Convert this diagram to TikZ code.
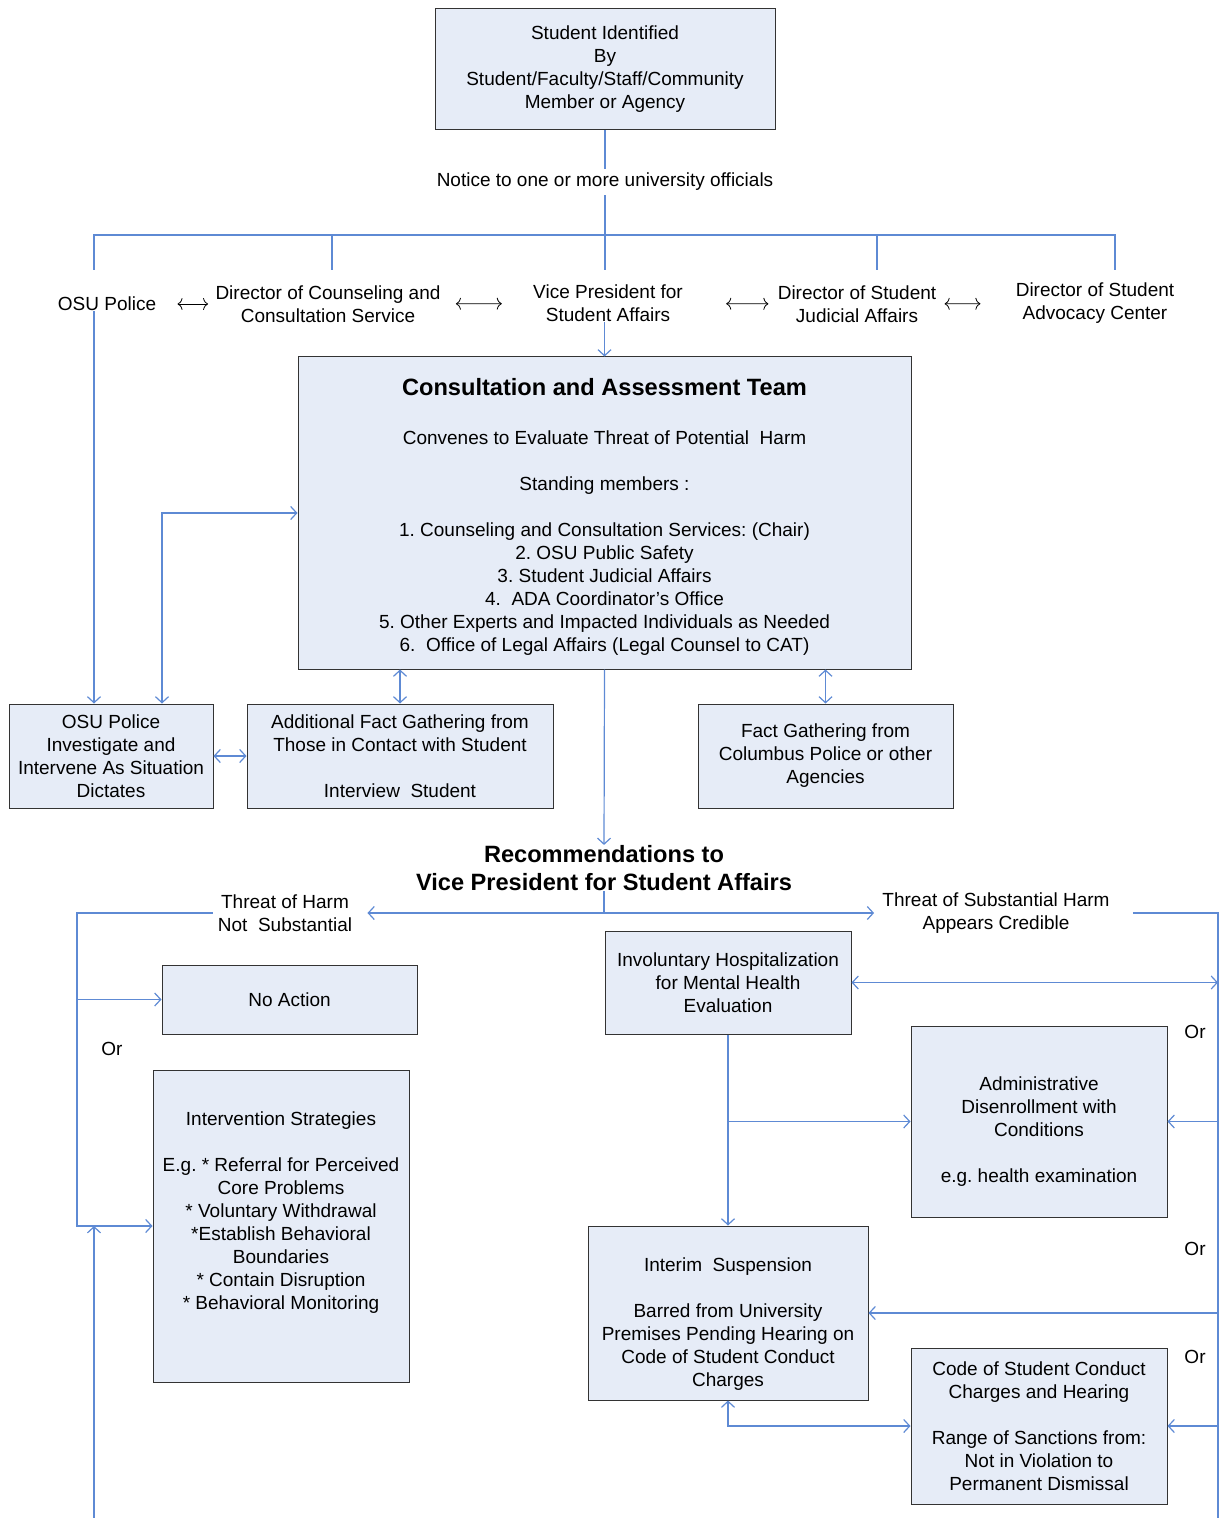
\documentclass[tikz,border=0pt]{standalone}
\usepackage{fontspec}
\setmainfont{Liberation Sans}
\usetikzlibrary{arrows.meta}

\definecolor{boxfill}{RGB}{230,236,247}
\definecolor{linkblue}{RGB}{94,138,212}
\frenchspacing

\begin{document}
\begin{tikzpicture}[x=0.5pt,y=-0.5pt,font=\fontsize{9.5}{11.5}\selectfont]

\tikzset{box/.style = {draw=black!80,fill=boxfill,line width=0.5pt,align=center,inner sep=0pt}}
\tikzset{lbl/.style = {align=center,inner sep=0pt}}
\tikzset{link/.style = {draw=linkblue,line width=0.6pt}}
\tikzset{tip/.style = {link,-{Straight Barb[length=3pt,width=6.5pt]}}}
\tikzset{both/.style = {link,{Straight Barb[length=3pt,width=6.5pt]}-{Straight Barb[length=3pt,width=6.5pt]}}}
\tikzset{peer/.style = {black,line width=0.4pt,{Computer Modern Rightarrow[length=2.5pt,width=6pt]}-{Computer Modern Rightarrow[length=2.5pt,width=6pt]}}}

\useasboundingbox (0,0) rectangle (1220,1518);

% who reports
\node[box,minimum width=170pt,minimum height=60.5pt] (idf) at (605,69.5)
  {Student Identified\\By\\Student/Faculty/Staff/Community\\Member or Agency};
\node[lbl,inner sep=2pt] (notice) at (605,182) {Notice to one or more university officials};

% officials
\node[lbl] (osu) at (107,304) {OSU Police};
\node[lbl] (dcc) at (328,304) {Director of Counseling and\\Consultation Service};
\node[lbl] (vpsa) at (608,303.5) {Vice President for\\Student Affairs};
\node[lbl] (dsja) at (857,304) {Director of Student\\Judicial Affairs};
\node[lbl] (dsac) at (1095,303.5) {Director of Student\\Advocacy Center};

\coordinate (b1) at (94,270);
\coordinate (b2) at (332,270);
\coordinate (b3) at (605,270);
\coordinate (b4) at (877,270);
\coordinate (b5) at (1115,270);

% team
\node[box,minimum width=306.5pt,minimum height=156pt] (cat) at (604.5,513)
  {\mbox{}\\[0.6pt]
   {\bfseries\fontsize{11.8}{14}\selectfont Consultation and Assessment Team}\\[13pt]
   Convenes to Evaluate Threat of Potential\ \ Harm\\[11.5pt]
   Standing members :\\[11.5pt]
   1. Counseling and Consultation Services: (Chair)\\
   2. OSU Public Safety\\
   3. Student Judicial Affairs\\
   4.\ \ ADA Coordinator’s Office\\
   5. Other Experts and Impacted Individuals as Needed\\
   6.\ \ Office of Legal Affairs (Legal Counsel to CAT)};

\node[box,minimum width=102pt,minimum height=52pt] (osubox) at (111,756)
  {OSU Police\\Investigate and\\Intervene As Situation\\Dictates};
\node[box,minimum width=153pt,minimum height=52pt] (addfact) at (400,756)
  {Additional Fact Gathering from\\Those in Contact with Student\\[11.5pt]Interview\ \ Student};
\node[box,minimum width=127.5pt,minimum height=52pt] (colfact) at (825.5,756)
  {Fact Gathering from\\Columbus Police or other\\Agencies};

\node[lbl,font=\bfseries\fontsize{11.8}{14}\selectfont] (recs) at (604,868)
  {Recommendations to\\Vice President for Student Affairs};
\coordinate (split) at (604,913);

\node[lbl] (nsub) at (285,913) {Threat of Harm\\Not\ \ Substantial};
\node[lbl] (subst) at (996,913) {Threat of Substantial Harm\\Appears Credible};

% not substantial
\node[box,minimum width=127.5pt,minimum height=34.5pt] (noact) at (289.5,999.5) {No Action};
\node[box,minimum width=128pt,minimum height=156pt] (interv) at (281,1226)
  {Intervention Strategies\\[11.5pt]
   E.g. * Referral for Perceived\\Core Problems\\{}* Voluntary Withdrawal\\{}*Establish Behavioral\\
   Boundaries\\{}* Contain Disruption\\{}* Behavioral Monitoring\\[3.5pt]\mbox{}};
\node[lbl] (or1) at (112,1049) {Or};

% substantial
\node[box,minimum width=123pt,minimum height=51.5pt] (hosp) at (728,982.5)
  {Involuntary Hospitalization\\for Mental Health\\Evaluation};
\node[box,minimum width=128pt,minimum height=95.5pt] (disen) at (1039,1121.5)
  {\mbox{}\\[5.4pt]Administrative\\Disenrollment with\\Conditions\\[11.5pt]e.g. health examination};
\node[box,minimum width=140pt,minimum height=87pt] (susp) at (728,1313)
  {\mbox{}\\[6.4pt]Interim\ \ Suspension\\[11.5pt]Barred from University\\Premises Pending Hearing on\\
   Code of Student Conduct\\Charges};
\node[box,minimum width=128pt,minimum height=78pt] (conduct) at (1039,1426)
  {Code of Student Conduct\\Charges and Hearing\\[11.5pt]Range of Sanctions from:\\
   Not in Violation to\\Permanent Dismissal};
\node[lbl] (or2) at (1195,1032) {Or};
\node[lbl] (or3) at (1195,1249) {Or};
\node[lbl] (or4) at (1195,1357) {Or};

\coordinate (cx) at (162,0);
\coordinate (lx) at (77,0);
\coordinate (lfoot) at (94,1518);
\coordinate (rfoot) at (1218,1518);

% connectors
\draw[link] (idf) -- (notice);
\draw[link] (notice) -- (b3);
\draw[link] (b1) -- (94,235) -- (1115,235) -- (b5);
\draw[link] (b2) -- (332,235);
\draw[link] (b4) -- (877,235);

\draw[peer,shorten <=10.5pt,shorten >=3.5pt] (osu) -- (dcc);
\draw[peer,shorten <=7.5pt,shorten >=15.5pt] (dcc) -- (vpsa);
\draw[peer,shorten <=21.5pt,shorten >=4.5pt] (vpsa) -- (dsja);
\draw[peer,shorten <=4pt,shorten >=17.5pt] (dsja) -- (dsac);

\draw[tip] (vpsa.south -| cat.north) -- (cat.north);
\draw[tip] (osu.south -| b1) -- (b1 |- osubox.north);
\draw[both] (cat.west) -| (cx |- osubox.north);
\draw[both] (osubox) -- (addfact);
\draw[both] (addfact.north) -- (addfact.north |- cat.south);
\draw[both] (colfact.north) -- (colfact.north |- cat.south);
\draw[tip] (cat.south) -- (recs.north);

\draw[link] (recs.south) -- (split);
\draw[tip,shorten >=7.5pt] (split) -- (nsub.east);
\draw[tip,shorten >=4pt] (split) -- (subst.west);

\draw[tip,shorten <=2.5pt] (nsub.west) -| (lx |- interv.west) -- (interv.west);
\draw[tip] (lx |- noact.west) -- (noact.west);
\draw[tip] (lfoot) -- (lfoot |- interv.west);

\draw[link,shorten <=11.5pt] (subst.east) -| (rfoot);
\draw[both] (hosp.east) -- (hosp.east -| rfoot);
\draw[tip] (rfoot |- disen.east) -- (disen.east);
\draw[tip] (rfoot |- susp.east) -- (susp.east);
\draw[tip] (rfoot |- conduct.east) -- (conduct.east);
\draw[tip] (hosp.south) -- (susp.north);
\draw[tip] (hosp.south |- disen.west) -- (disen.west);
\draw[both] (susp.south) |- (conduct.west);

\end{tikzpicture}
\end{document}
